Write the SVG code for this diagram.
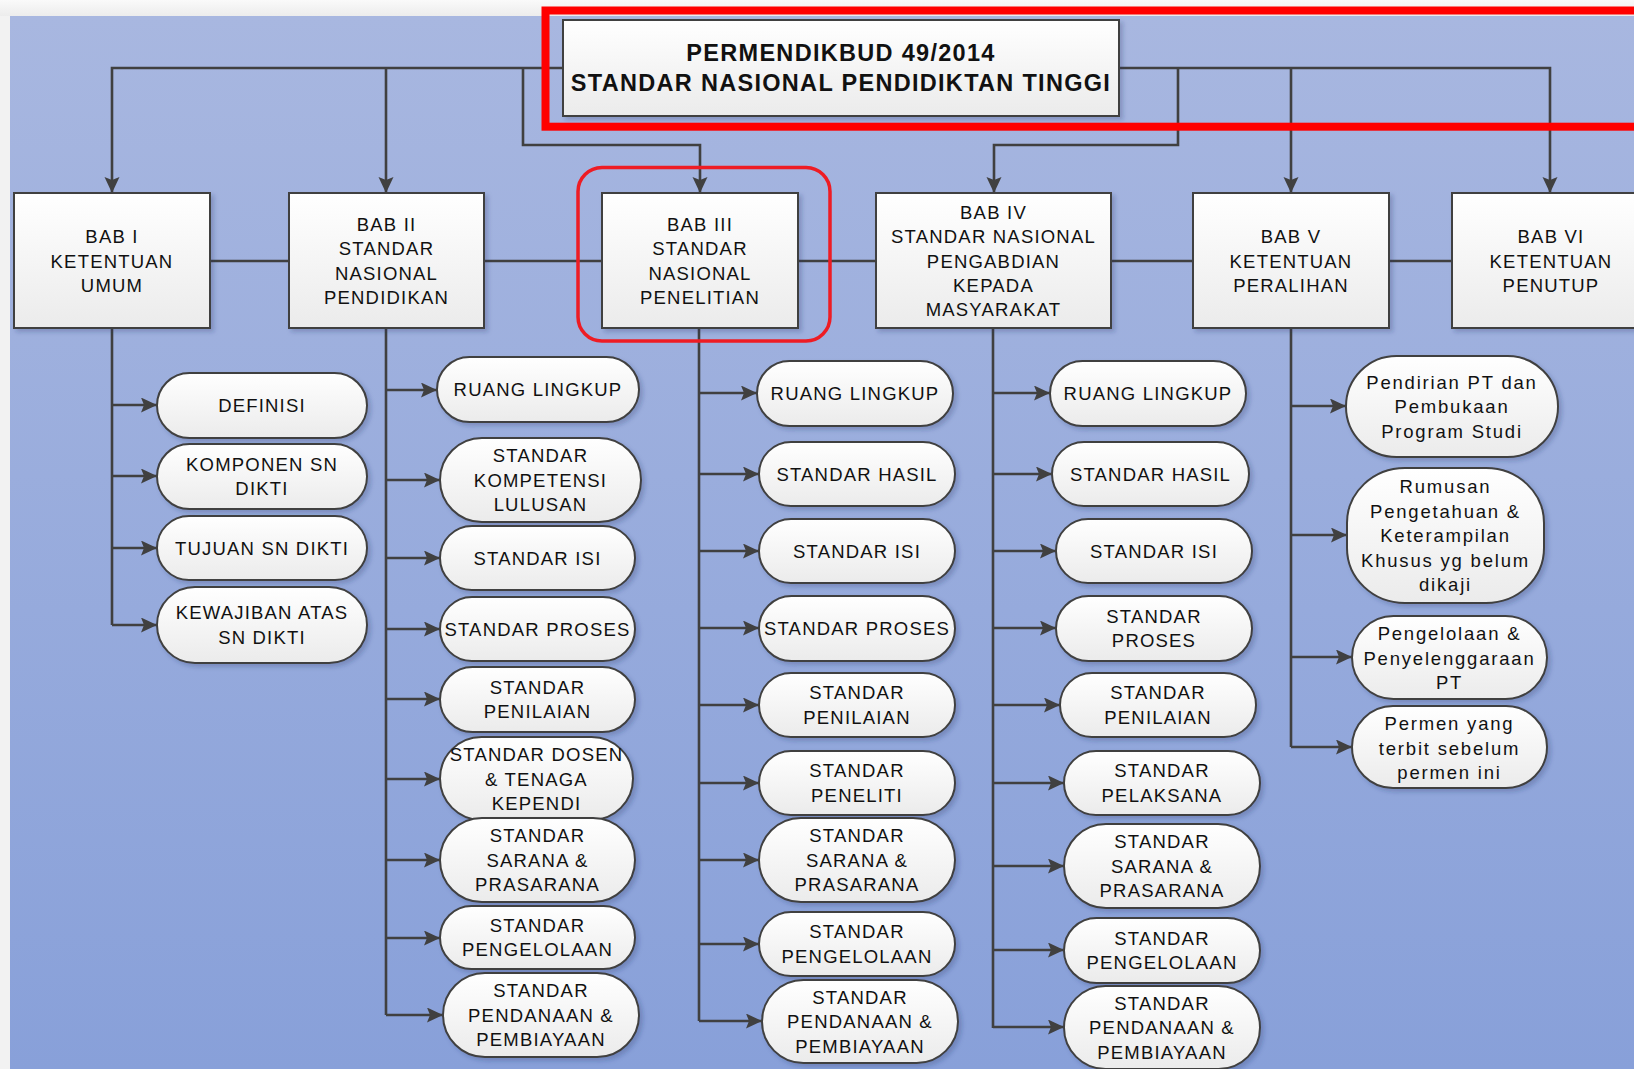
<svg xmlns="http://www.w3.org/2000/svg" width="1634" height="1069" viewBox="0 0 1634 1069">
<defs>
<linearGradient id="bg" x1="0" y1="0" x2="0" y2="1"><stop offset="0" stop-color="#a8b7e0"/><stop offset="1" stop-color="#88a0d9"/></linearGradient>
<linearGradient id="top" x1="0" y1="0" x2="0" y2="1"><stop offset="0" stop-color="#fafafa"/><stop offset="1" stop-color="#ececec"/></linearGradient>
<linearGradient id="nf" x1="0" y1="0" x2="0" y2="1"><stop offset="0" stop-color="#ffffff"/><stop offset="1" stop-color="#ebebeb"/></linearGradient>
<filter id="sh" x="-10%" y="-10%" width="125%" height="130%"><feDropShadow dx="3" dy="3" stdDeviation="2" flood-color="#1f2f60" flood-opacity="0.25"/></filter>
<marker id="ar" markerUnits="userSpaceOnUse" markerWidth="17" markerHeight="16" refX="16" refY="7.5" orient="auto"><path d="M0,0 L16,7.5 L0,15 L3,7.5 z" fill="#404040"/></marker>
<style>
.n{fill:url(#nf);stroke:#404040;stroke-width:2;filter:url(#sh)}
.c{fill:none;stroke:#404040;stroke-width:2.6}
.a{fill:none;stroke:#404040;stroke-width:2.6;marker-end:url(#ar)}
text{font-family:"Liberation Sans",Arial,sans-serif;font-size:18.5px;fill:#111;text-anchor:middle;letter-spacing:1.2px}
.t{font-weight:bold;font-size:23.5px;letter-spacing:1.3px}
.lc{letter-spacing:1.8px}
</style>
</defs>
<rect x="0" y="0" width="1634" height="1069" fill="#f2f2f2"/>
<rect x="0" y="0" width="1634" height="16" fill="url(#top)"/>
<rect x="10" y="16" width="1624" height="1053" fill="url(#bg)"/>

<g id="connectors">
<path class="c" d="M210,261 H1452"/>
<path class="a" d="M563,68 H112 V193"/>
<path class="a" d="M386,68 V193"/>
<path class="a" d="M523,68 V145 H700 V193"/>
<path class="a" d="M1119,68 H1550 V193"/>
<path class="a" d="M1178,68 V145 H994 V193"/>
<path class="a" d="M1291,68 V193"/>
<path class="c" d="M112,328 V625"/>
<path class="c" d="M386,328 V1015"/>
<path class="c" d="M699,328 V1021"/>
<path class="c" d="M993,328 V1028"/>
<path class="c" d="M1291,328 V747"/>
<path class="a" d="M112,405 H157"/>
<path class="a" d="M112,476 H157"/>
<path class="a" d="M112,548 H157"/>
<path class="a" d="M112,625 H157"/>
<path class="a" d="M386,390 H437"/>
<path class="a" d="M386,480 H440"/>
<path class="a" d="M386,558 H440"/>
<path class="a" d="M386,629 H440"/>
<path class="a" d="M386,699 H440"/>
<path class="a" d="M386,779 H440"/>
<path class="a" d="M386,860 H440"/>
<path class="a" d="M386,938 H440"/>
<path class="a" d="M386,1015 H443"/>
<path class="a" d="M699,393 H757"/>
<path class="a" d="M699,474 H759"/>
<path class="a" d="M699,551 H759"/>
<path class="a" d="M699,628 H759"/>
<path class="a" d="M699,705 H759"/>
<path class="a" d="M699,783 H759"/>
<path class="a" d="M699,860 H759"/>
<path class="a" d="M699,944 H759"/>
<path class="a" d="M699,1021 H762"/>
<path class="a" d="M993,393 H1050"/>
<path class="a" d="M993,474 H1052"/>
<path class="a" d="M993,551 H1056"/>
<path class="a" d="M993,628 H1056"/>
<path class="a" d="M993,705 H1060"/>
<path class="a" d="M993,783 H1064"/>
<path class="a" d="M993,866 H1064"/>
<path class="a" d="M993,950 H1064"/>
<path class="a" d="M993,1027 H1064"/>
<path class="a" d="M1291,406 H1346"/>
<path class="a" d="M1291,535 H1347"/>
<path class="a" d="M1291,657 H1352"/>
<path class="a" d="M1291,747 H1352"/>
</g>

<g id="root"><rect class="n" x="563" y="20" width="556" height="96"/>
<text class="t"><tspan x="841" y="61">PERMENDIKBUD 49/2014</tspan><tspan x="841" y="91">STANDAR NASIONAL PENDIDIKTAN TINGGI</tspan></text></g>

<g id="bab1"><rect class="n" x="14" y="193" width="196" height="135"/>
<text><tspan x="112" y="243">BAB I</tspan><tspan x="112" y="267.5">KETENTUAN</tspan><tspan x="112" y="292">UMUM</tspan></text></g>
<g id="bab2"><rect class="n" x="289" y="193" width="195" height="135"/>
<text><tspan x="386.5" y="231">BAB II</tspan><tspan x="386.5" y="255.4">STANDAR</tspan><tspan x="386.5" y="279.8">NASIONAL</tspan><tspan x="386.5" y="304.2">PENDIDIKAN</tspan></text></g>
<g id="bab3"><rect class="n" x="602" y="193" width="196" height="135"/>
<text><tspan x="700" y="231">BAB III</tspan><tspan x="700" y="255.4">STANDAR</tspan><tspan x="700" y="279.8">NASIONAL</tspan><tspan x="700" y="304.2">PENELITIAN</tspan></text></g>
<g id="bab4"><rect class="n" x="876" y="193" width="235" height="135"/>
<text><tspan x="993.5" y="218.8">BAB IV</tspan><tspan x="993.5" y="243.2">STANDAR NASIONAL</tspan><tspan x="993.5" y="267.6">PENGABDIAN</tspan><tspan x="993.5" y="292">KEPADA</tspan><tspan x="993.5" y="316.4">MASYARAKAT</tspan></text></g>
<g id="bab5"><rect class="n" x="1193" y="193" width="196" height="135"/>
<text><tspan x="1291" y="243">BAB V</tspan><tspan x="1291" y="267.5">KETENTUAN</tspan><tspan x="1291" y="292">PERALIHAN</tspan></text></g>
<g id="bab6"><rect class="n" x="1452" y="193" width="200" height="135"/>
<text><tspan x="1551" y="243">BAB VI</tspan><tspan x="1551" y="267.5">KETENTUAN</tspan><tspan x="1551" y="292">PENUTUP</tspan></text></g>

<g id="b1-definisi"><rect class="n" x="157" y="373" width="210" height="65" rx="32.5"/><text><tspan x="262" y="412">DEFINISI</tspan></text></g>
<g id="b1-komponen"><rect class="n" x="157" y="444" width="210" height="65" rx="32.5"/><text><tspan x="262" y="471">KOMPONEN SN</tspan><tspan x="262" y="495.3">DIKTI</tspan></text></g>
<g id="b1-tujuan"><rect class="n" x="157" y="516" width="210" height="64" rx="32"/><text><tspan x="262" y="554.6">TUJUAN SN DIKTI</tspan></text></g>
<g id="b1-kewajiban"><rect class="n" x="157" y="587" width="210" height="76" rx="38"/><text><tspan x="262" y="619.4">KEWAJIBAN ATAS</tspan><tspan x="262" y="643.8">SN DIKTI</tspan></text></g>

<g id="b2-ruang"><rect class="n" x="437" y="357" width="202" height="65" rx="32.5"/><text><tspan x="538" y="396">RUANG LINGKUP</tspan></text></g>
<g id="b2-kompetensi"><rect class="n" x="440" y="438" width="201" height="84" rx="42"/><text><tspan x="540.5" y="462.2">STANDAR</tspan><tspan x="540.5" y="486.6">KOMPETENSI</tspan><tspan x="540.5" y="511">LULUSAN</tspan></text></g>
<g id="b2-isi"><rect class="n" x="440" y="526" width="195" height="64" rx="32"/><text><tspan x="537.5" y="564.6">STANDAR ISI</tspan></text></g>
<g id="b2-proses"><rect class="n" x="440" y="597" width="195" height="64" rx="32"/><text><tspan x="537.5" y="635.6">STANDAR PROSES</tspan></text></g>
<g id="b2-penilaian"><rect class="n" x="440" y="667" width="195" height="65" rx="32.5"/><text><tspan x="537.5" y="693.9">STANDAR</tspan><tspan x="537.5" y="718.3">PENILAIAN</tspan></text></g>
<g id="b2-dosen"><rect class="n" x="440" y="737" width="193" height="83" rx="41.5"/><text><tspan x="536.5" y="761.2">STANDAR DOSEN</tspan><tspan x="536.5" y="785.6">&amp; TENAGA</tspan><tspan x="536.5" y="810">KEPENDI</tspan></text></g>
<g id="b2-sarana"><rect class="n" x="440" y="818" width="195" height="84" rx="42"/><text><tspan x="537.5" y="842.2">STANDAR</tspan><tspan x="537.5" y="866.6">SARANA &amp;</tspan><tspan x="537.5" y="891">PRASARANA</tspan></text></g>
<g id="b2-pengelolaan"><rect class="n" x="440" y="906" width="195" height="63" rx="31.5"/><text><tspan x="537.5" y="931.9">STANDAR</tspan><tspan x="537.5" y="956.3">PENGELOLAAN</tspan></text></g>
<g id="b2-pendanaan"><rect class="n" x="443" y="973" width="196" height="84" rx="42"/><text><tspan x="541" y="997.2">STANDAR</tspan><tspan x="541" y="1021.6">PENDANAAN &amp;</tspan><tspan x="541" y="1046">PEMBIAYAAN</tspan></text></g>

<g id="b3-ruang"><rect class="n" x="757" y="361" width="196" height="65" rx="32.5"/><text><tspan x="855" y="400.1">RUANG LINGKUP</tspan></text></g>
<g id="b3-hasil"><rect class="n" x="759" y="442" width="196" height="64" rx="32"/><text><tspan x="857" y="480.6">STANDAR HASIL</tspan></text></g>
<g id="b3-isi"><rect class="n" x="759" y="519" width="196" height="64" rx="32"/><text><tspan x="857" y="557.6">STANDAR ISI</tspan></text></g>
<g id="b3-proses"><rect class="n" x="759" y="596" width="196" height="65" rx="32.5"/><text><tspan x="857" y="635.1">STANDAR PROSES</tspan></text></g>
<g id="b3-penilaian"><rect class="n" x="759" y="673" width="196" height="64" rx="32"/><text><tspan x="857" y="699.4">STANDAR</tspan><tspan x="857" y="723.8">PENILAIAN</tspan></text></g>
<g id="b3-peneliti"><rect class="n" x="759" y="751" width="196" height="64" rx="32"/><text><tspan x="857" y="777.4">STANDAR</tspan><tspan x="857" y="801.8">PENELITI</tspan></text></g>
<g id="b3-sarana"><rect class="n" x="759" y="818" width="196" height="84" rx="42"/><text><tspan x="857" y="842.2">STANDAR</tspan><tspan x="857" y="866.6">SARANA &amp;</tspan><tspan x="857" y="891">PRASARANA</tspan></text></g>
<g id="b3-pengelolaan"><rect class="n" x="759" y="912" width="196" height="64" rx="32"/><text><tspan x="857" y="938.4">STANDAR</tspan><tspan x="857" y="962.8">PENGELOLAAN</tspan></text></g>
<g id="b3-pendanaan"><rect class="n" x="762" y="980" width="196" height="83" rx="41.5"/><text><tspan x="860" y="1003.7">STANDAR</tspan><tspan x="860" y="1028.1">PENDANAAN &amp;</tspan><tspan x="860" y="1052.5">PEMBIAYAAN</tspan></text></g>

<g id="b4-ruang"><rect class="n" x="1050" y="361" width="196" height="65" rx="32.5"/><text><tspan x="1148" y="400.1">RUANG LINGKUP</tspan></text></g>
<g id="b4-hasil"><rect class="n" x="1052" y="442" width="197" height="64" rx="32"/><text><tspan x="1150.5" y="480.6">STANDAR HASIL</tspan></text></g>
<g id="b4-isi"><rect class="n" x="1056" y="519" width="196" height="64" rx="32"/><text><tspan x="1154" y="557.6">STANDAR ISI</tspan></text></g>
<g id="b4-proses"><rect class="n" x="1056" y="596" width="196" height="65" rx="32.5"/><text><tspan x="1154" y="622.9">STANDAR</tspan><tspan x="1154" y="647.3">PROSES</tspan></text></g>
<g id="b4-penilaian"><rect class="n" x="1060" y="673" width="196" height="64" rx="32"/><text><tspan x="1158" y="699.4">STANDAR</tspan><tspan x="1158" y="723.8">PENILAIAN</tspan></text></g>
<g id="b4-pelaksana"><rect class="n" x="1064" y="751" width="196" height="64" rx="32"/><text><tspan x="1162" y="777.4">STANDAR</tspan><tspan x="1162" y="801.8">PELAKSANA</tspan></text></g>
<g id="b4-sarana"><rect class="n" x="1064" y="824" width="196" height="84" rx="42"/><text><tspan x="1162" y="848.2">STANDAR</tspan><tspan x="1162" y="872.6">SARANA &amp;</tspan><tspan x="1162" y="897">PRASARANA</tspan></text></g>
<g id="b4-pengelolaan"><rect class="n" x="1064" y="918" width="196" height="65" rx="32.5"/><text><tspan x="1162" y="944.9">STANDAR</tspan><tspan x="1162" y="969.3">PENGELOLAAN</tspan></text></g>
<g id="b4-pendanaan"><rect class="n" x="1064" y="986" width="196" height="83" rx="41.5"/><text><tspan x="1162" y="1009.7">STANDAR</tspan><tspan x="1162" y="1034.1">PENDANAAN &amp;</tspan><tspan x="1162" y="1058.5">PEMBIAYAAN</tspan></text></g>

<g id="b5-pendirian"><rect class="n" x="1346" y="356" width="212" height="101" rx="50.5"/><text class="lc"><tspan x="1452" y="388.7">Pendirian PT dan</tspan><tspan x="1452" y="413.1">Pembukaan</tspan><tspan x="1452" y="437.5">Program Studi</tspan></text></g>
<g id="b5-rumusan"><rect class="n" x="1347" y="468" width="197" height="135" rx="58" ry="55"/><text class="lc"><tspan x="1445.5" y="493.3">Rumusan</tspan><tspan x="1445.5" y="517.7">Pengetahuan &amp;</tspan><tspan x="1445.5" y="542.1">Keterampilan</tspan><tspan x="1445.5" y="566.5">Khusus yg belum</tspan><tspan x="1445.5" y="590.9">dikaji</tspan></text></g>
<g id="b5-pengelolaan"><rect class="n" x="1352" y="616" width="195" height="83" rx="41.5"/><text class="lc"><tspan x="1449.5" y="640.2">Pengelolaan &amp;</tspan><tspan x="1449.5" y="664.6">Penyelenggaraan</tspan><tspan x="1449.5" y="689">PT</tspan></text></g>
<g id="b5-permen"><rect class="n" x="1352" y="706" width="195" height="82" rx="41"/><text class="lc"><tspan x="1449.5" y="730.2">Permen yang</tspan><tspan x="1449.5" y="754.6">terbit sebelum</tspan><tspan x="1449.5" y="779">permen ini</tspan></text></g>

<g id="highlights">
<rect x="545.5" y="10.5" width="1100" height="116.2" fill="none" stroke="#ff0000" stroke-width="8"/>
<rect x="578" y="167.5" width="252" height="173.5" rx="24" fill="none" stroke="#ee1c24" stroke-width="3.5"/>
</g>
</svg>
